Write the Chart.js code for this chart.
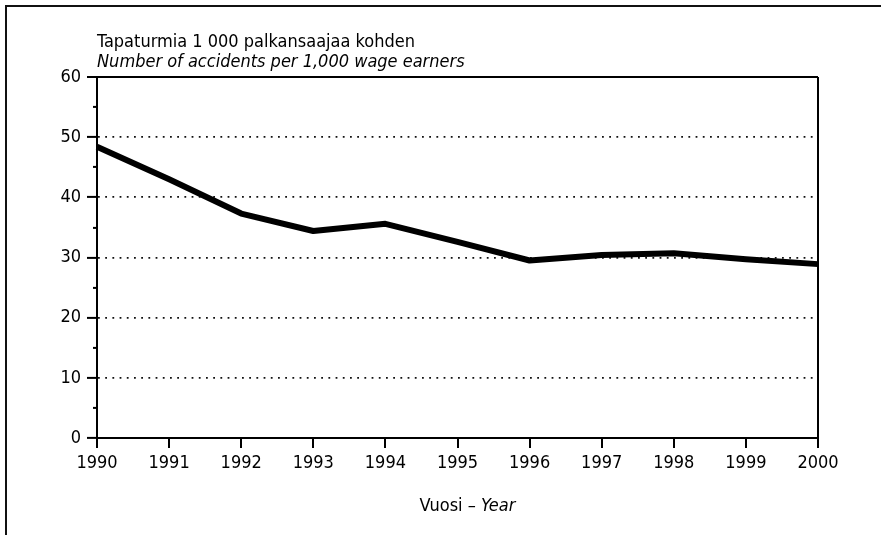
<!DOCTYPE html>
<html>
<head>
<meta charset="utf-8">
<script src="https://cdn.jsdelivr.net/npm/chart.js@4.4.1/dist/chart.umd.min.js"></script>
<style>
  html, body { margin: 0; padding: 0; background: #fff; }
  #wrap { position: relative; width: 881px; height: 535px; overflow: hidden; }
  #frame { position: absolute; left: 5px; top: 5px; right: -10px; bottom: -10px;
           border-left: 2px solid #111; border-top: 2px solid #111; }
  #myChart { position: absolute; left: 0; top: 0; }
</style>
</head>
<body>
<div id="wrap">
  <div id="frame"></div>
  <canvas id="myChart" width="881" height="535"></canvas>
</div>
<script>
const years = ['1990', '1991', '1992', '1993', '1994', '1995', '1996', '1997', '1998', '1999', '2000'];
const accidents = [48.4, 43.0, 37.3, 34.4, 35.6, 32.6, 29.5, 30.4, 30.7, 29.7, 28.9];
const titleFi = 'Tapaturmia 1 000 palkansaajaa kohden';
const titleEn = 'Number of accidents per 1,000 wage earners';
const xTitleFi = 'Vuosi – ';
const xTitleEn = 'Year';

const FONT = '"DejaVu Sans Condensed", "Liberation Sans Narrow", sans-serif';
const SIZE = 18;

// titles are drawn against the plot area, with mixed upright/italic text
const textPlugin = {
    id: 'texts',
    afterDraw(chart) {
        var ctx = chart.ctx;
        var a = chart.chartArea;
        ctx.save();
        ctx.fillStyle = '#000';
        ctx.textBaseline = 'alphabetic';
        ctx.textAlign = 'left';
        ctx.font = SIZE + 'px ' + FONT;
        ctx.fillText(titleFi, a.left, a.top - 30);
        ctx.font = 'italic ' + SIZE + 'px ' + FONT;
        ctx.fillText(titleEn, a.left, a.top - 10);
        // x axis title
        ctx.font = SIZE + 'px ' + FONT;
        var w1 = ctx.measureText(xTitleFi).width;
        ctx.font = 'italic ' + SIZE + 'px ' + FONT;
        var w2 = ctx.measureText(xTitleEn).width;
        var x0 = (a.left + a.right) / 2 + 10 - (w1 + w2) / 2;
        var y0 = a.bottom + 73;
        ctx.font = SIZE + 'px ' + FONT;
        ctx.fillText(xTitleFi, x0, y0);
        ctx.font = 'italic ' + SIZE + 'px ' + FONT;
        ctx.fillText(xTitleEn, x0 + w1, y0);
        ctx.restore();
    }
};

new Chart(document.getElementById('myChart'), {
    type: 'line',
    data: {
        labels: years,
        datasets: [{
            data: accidents,
            borderColor: '#000',
            borderWidth: 6,
            pointRadius: 0,
            tension: 0,
            fill: false,
            borderJoinStyle: 'round',
            borderCapStyle: 'butt'
        }]
    },
    options: {
        responsive: false,
        animation: false,
        layout: { padding: { left: 0, right: 63, top: 77, bottom: 0 } },
        plugins: { legend: { display: false }, tooltip: { enabled: false }, title: { display: false } },
        scales: {
            x: {
                offset: false,
                afterFit: s => { s.height = 97; },
                grid: {
                    drawOnChartArea: true,
                    color: c => (c.index === years.length - 1 ? '#000' : 'rgba(0,0,0,0)'),
                    lineWidth: 2,
                    tickColor: '#000',
                    tickWidth: 2,
                    tickLength: 10
                },
                border: { display: true, color: '#000', width: 2 },
                ticks: {
                    color: '#000',
                    padding: 5,
                    maxRotation: 0,
                    autoSkip: false,
                    font: { family: FONT, size: SIZE }
                }
            },
            y: {
                min: 0,
                max: 60,
                afterFit: s => { s.width = 97; },
                grid: {
                    color: c => {
                        var v = c.tick ? c.tick.value : 0;
                        if (v === 60) return '#000';
                        if (v > 0 && v % 10 === 0) return '#111';
                        return 'rgba(0,0,0,0)';
                    },
                    lineWidth: c => (c.tick && c.tick.value === 60 ? 2 : 1.8),
                    tickColor: '#000',
                    tickWidth: 2,
                    tickLength: 10,
                    tickBorderDash: c => (c.tick && c.tick.value % 10 !== 0 ? [4, 6] : []),
                    tickBorderDashOffset: c => (c.tick && c.tick.value % 10 !== 0 ? 4 : 0)
                },
                border: {
                    display: true,
                    color: '#000',
                    width: 2,
                    dash: c => (c.tick && c.tick.value !== 60 ? [1.8, 5.4] : [])
                },
                ticks: {
                    stepSize: 5,
                    color: '#000',
                    padding: 6,
                    font: { family: FONT, size: SIZE },
                    callback: v => (v % 10 === 0 ? v : '')
                }
            }
        }
    },
    plugins: [textPlugin]
});
</script>
</body>
</html>
